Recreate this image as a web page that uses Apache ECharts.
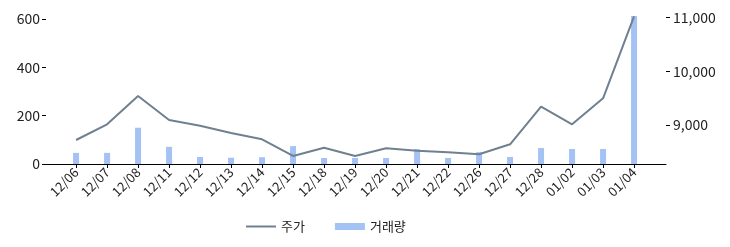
<!DOCTYPE html>
<html>
<head>
<meta charset="utf-8">
<script src="https://cdn.jsdelivr.net/npm/echarts@6/dist/echarts.min.js"></script>
<style>html,body{margin:0;padding:0;background:#fff;}#c{width:730px;height:247px;}</style>
</head>
<body>
<div id="c"></div>
<script>
const categories = ['12/06','12/07','12/08','12/11','12/12','12/13','12/14','12/15','12/18','12/19','12/20','12/21','12/22','12/26','12/27','12/28','01/02','01/03','01/04'];
const price = [8721, 9013, 9539, 9093, 8987, 8850, 8734, 8424, 8578, 8424, 8567, 8520, 8495, 8455, 8641, 9340, 9013, 9496, 11020];
const volume = [46, 46, 150, 71, 29, 26, 28, 74, 25, 25, 25, 62, 25, 49, 29, 66, 62, 62, 612];
const leftTicks = [0, 200, 400, 600];
const rightTicks = [9000, 10000, 11000];

const FONT = '"Noto Sans CJK KR", "Noto Sans", sans-serif';
const idx = categories.map((_, i) => i);
const chart = echarts.init(document.getElementById('c'), null, {renderer: 'canvas'});
chart.setOption({
  animation: false,
  textStyle: {fontFamily: FONT},
  grid: {left: 46, right: 64, top: 9, bottom: 83, containLabel: false},
  legend: {
    left: 241, top: 215, itemWidth: 30, itemHeight: 7, itemGap: 30,
    textStyle: {fontFamily: FONT, fontSize: 13, color: '#222'},
    data: [
      {name: '주가', icon: 'path://M0,0 L30,0 L30,2 L0,2 Z'},
      {name: '거래량', icon: 'rect'}
    ]
  },
  xAxis: {
    type: 'value', min: -0.97, max: 19.03,
    axisLine: {show: true, onZero: false, lineStyle: {color: '#000', width: 1}},
    axisTick: {show: true, customValues: idx, length: 4, lineStyle: {color: '#000'}},
    axisLabel: {customValues: idx, formatter: v => categories[Math.round(v)] || '', rotate: 45, fontSize: 13, color: '#222', margin: 6, fontFamily: FONT},
    splitLine: {show: false}
  },
  yAxis: [
    {
      type: 'value', min: 0, max: 641, position: 'left',
      axisLine: {show: false, onZero: false},
      axisTick: {show: true, customValues: leftTicks, length: 4, lineStyle: {color: '#000'}},
      axisLabel: {customValues: leftTicks, fontSize: 14, color: '#222', margin: 6, fontFamily: FONT},
      splitLine: {show: false}
    },
    {
      type: 'value', min: 8275, max: 11156, position: 'right',
      axisLine: {show: false, onZero: false},
      axisTick: {show: true, customValues: rightTicks, length: 4, lineStyle: {color: '#000'}},
      axisLabel: {customValues: rightTicks, formatter: v => v.toLocaleString('en-US'), fontSize: 14, color: '#222', margin: 7, fontFamily: FONT},
      splitLine: {show: false}
    }
  ],
  series: [
    {
      name: '거래량', type: 'bar', yAxisIndex: 0, barWidth: 6,
      itemStyle: {color: '#a4c2f4'},
      data: volume.map((v, i) => [i, v]), z: 1
    },
    {
      name: '주가', type: 'line', yAxisIndex: 1, symbol: 'none',
      lineStyle: {color: '#708090', width: 2}, itemStyle: {color: '#708090'},
      data: price.map((v, i) => [i, v]), z: 3
    }
  ]
});
</script>
</body>
</html>
